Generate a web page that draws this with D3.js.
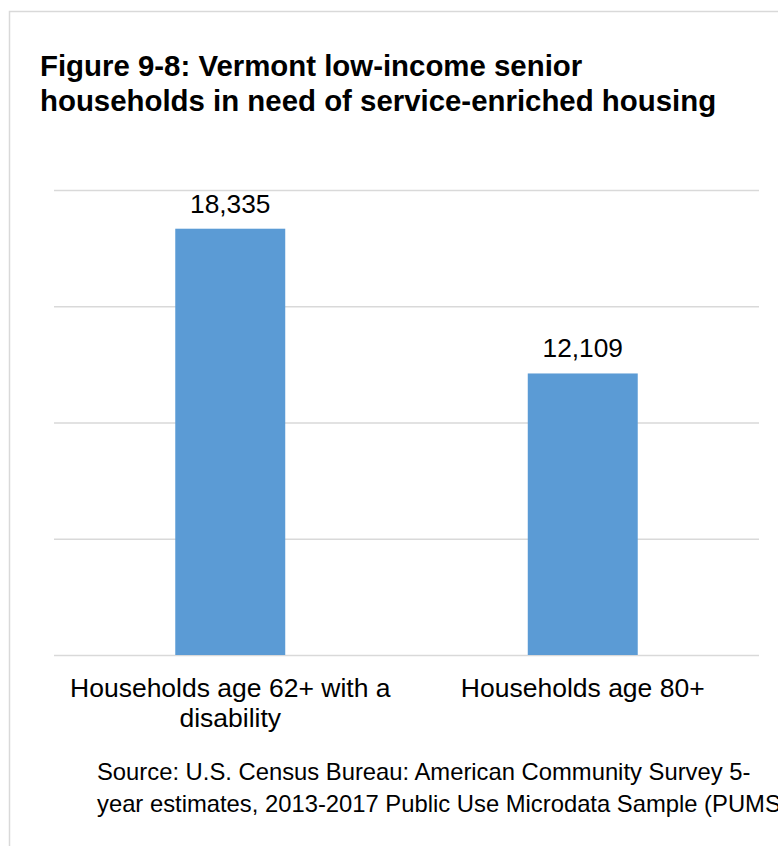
<!DOCTYPE html>
<html>
<head>
<meta charset="utf-8">
<style>
  body { margin: 0; background: #fff; }
  svg { display: block; font-family: "Liberation Sans", Arial, sans-serif; }
  .grid line { stroke: #d9d9d9; stroke-width: 1.5px; }
</style>
<script src="https://cdn.jsdelivr.net/npm/d3@7"></script>
</head>
<body>
<svg width="778" height="846"></svg>
<script>

// data
var titleLines = ["Figure 9-8: Vermont low-income senior",
                  "households in need of service-enriched housing"];
var categories = ["Households age 62+ with a disability", "Households age 80+"];
var categoryLines = [["Households age 62+ with a", "disability"], ["Households age 80+"]];
var values = [18335, 12109];
var yTicks = [0, 5000, 10000, 15000, 20000];
var sourceLines = ["Source: U.S. Census Bureau: American Community Survey 5-",
                   "year estimates, 2013-2017 Public Use Microdata Sample (PUMS)"];

var svg = d3.select("svg"),
    width = +svg.attr("width"),
    height = +svg.attr("height");

var plot = {left: 54, right: 759, top: 190, bottom: 655};

// chart area frame (runs off the right and bottom edge)
svg.append("rect")
    .attr("x", 9.5).attr("y", 11.5)
    .attr("width", 800).attr("height", 900)
    .attr("fill", "#fff")
    .attr("stroke", "#d9d9d9")
    .attr("stroke-width", 1.5);

svg.append("text")
    .attr("font-weight", "bold")
    .attr("font-size", 29.4)
    .attr("fill", "#000")
  .selectAll("tspan")
  .data(titleLines)
  .enter().append("tspan")
    .attr("x", 40)
    .attr("y", function(d, i) { return 76 + i * 34.5; })
    .text(function(d) { return d; });

var x = d3.scaleBand()
    .domain(categories)
    .range([plot.left, plot.right])
    .paddingInner(0.688)
    .paddingOuter(0.344);

var y = d3.scaleLinear()
    .domain([0, 20000])
    .range([plot.bottom, plot.top]);

var grid = svg.append("g")
    .attr("class", "grid")
    .attr("transform", "translate(" + plot.left + ",0)")
    .call(d3.axisLeft(y).tickValues(yTicks).tickSize(-(plot.right - plot.left)).tickFormat(""));
grid.select(".domain").remove();

svg.append("g")
  .selectAll("rect")
  .data(values)
  .enter().append("rect")
    .attr("x", function(d, i) { return x(categories[i]); })
    .attr("y", function(d) { return y(d); })
    .attr("width", x.bandwidth())
    .attr("height", function(d) { return y(0) - y(d); })
    .attr("fill", "#5b9bd5");

svg.append("g")
  .selectAll("text")
  .data(values)
  .enter().append("text")
    .attr("x", function(d, i) { return x(categories[i]) + x.bandwidth() / 2; })
    .attr("y", function(d) { return y(d) - 16; })
    .attr("text-anchor", "middle")
    .attr("font-size", 26.3)
    .attr("fill", "#000")
    .text(function(d) { return d3.format(",")(d); });

var cat = svg.append("g")
  .selectAll("text")
  .data(categoryLines)
  .enter().append("text")
    .attr("text-anchor", "middle")
    .attr("font-size", 26.5)
    .attr("fill", "#000");

cat.selectAll("tspan")
  .data(function(d, i) { return d.map(function(t) { return {t: t, c: categories[i]}; }); })
  .enter().append("tspan")
    .attr("x", function(d) { return x(d.c) + x.bandwidth() / 2; })
    .attr("y", function(d, j) { return 697 + j * 29.5; })
    .text(function(d) { return d.t; });

svg.append("text")
    .attr("font-size", 23.8)
    .attr("fill", "#000")
  .selectAll("tspan")
  .data(sourceLines)
  .enter().append("tspan")
    .attr("x", 97)
    .attr("y", function(d, i) { return 780 + i * 32; })
    .text(function(d) { return d; });

</script>
</body>
</html>
